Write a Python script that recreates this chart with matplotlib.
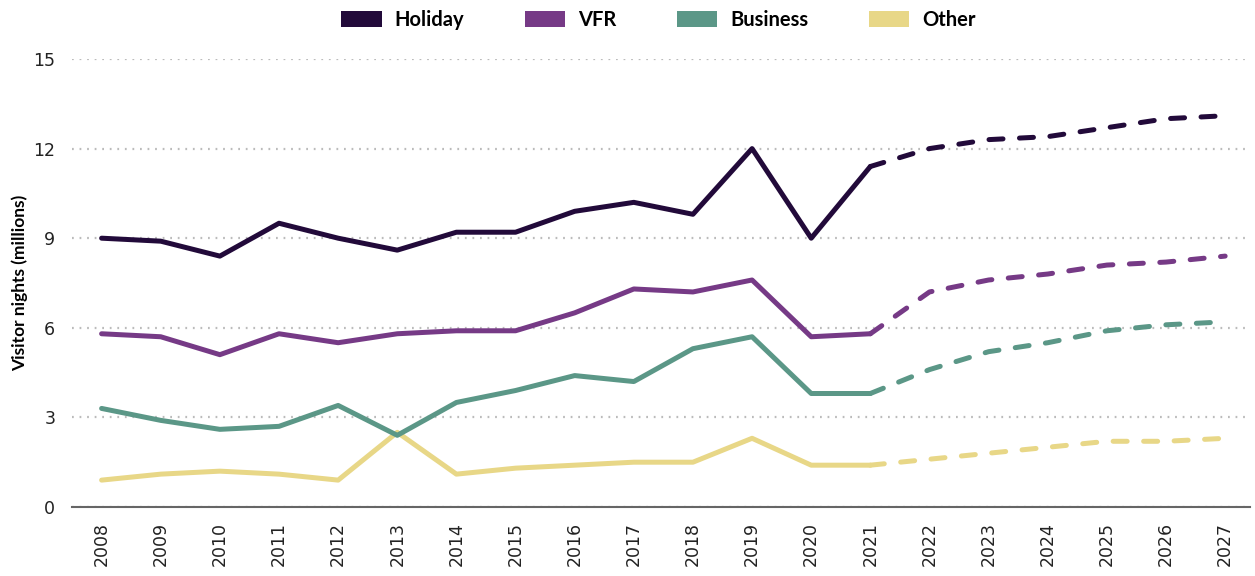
import matplotlib
matplotlib.use("Agg")
import matplotlib.pyplot as plt
from matplotlib.patches import Patch

# --- data: visitor nights (millions), actuals to 2021 then forecast ---
years = list(range(2008, 2028))
last_actual = 2021

holiday = [9.0, 8.9, 8.4, 9.5, 9.0, 8.6, 9.2, 9.2, 9.9, 10.2, 9.8, 12.0, 9.0, 11.4,
           12.0, 12.3, 12.4, 12.7, 13.0, 13.1]
vfr = [5.8, 5.7, 5.1, 5.8, 5.5, 5.8, 5.9, 5.9, 6.5, 7.3, 7.2, 7.6, 5.7, 5.8,
       7.2, 7.6, 7.8, 8.1, 8.2, 8.4]
business = [3.3, 2.9, 2.6, 2.7, 3.4, 2.4, 3.5, 3.9, 4.4, 4.2, 5.3, 5.7, 3.8, 3.8,
            4.6, 5.2, 5.5, 5.9, 6.1, 6.2]
other = [0.9, 1.1, 1.2, 1.1, 0.9, 2.5, 1.1, 1.3, 1.4, 1.5, 1.5, 2.3, 1.4, 1.4,
         1.6, 1.8, 2.0, 2.2, 2.2, 2.3]

series_names = ["Holiday", "VFR", "Business", "Other"]
colors = ["#220a3a", "#763a86", "#5b9787", "#e8d787"]
yticks = [0, 3, 6, 9, 12, 15]

plt.rcParams["font.family"] = ["Lato", "DejaVu Sans"]

fig = plt.figure(figsize=(12.55, 5.76), dpi=100)
ax = fig.add_axes([0.0574, 0.1198, 0.9386, 0.7778])

split = years.index(last_actual)
# draw back to front so Holiday sits on top
for name, vals, col in reversed(list(zip(series_names, [holiday, vfr, business, other], colors))):
    ax.plot(years[:split + 1], vals[:split + 1], color=col, lw=3.6,
            solid_capstyle="round", solid_joinstyle="round", clip_on=False)
    ax.plot(years[split:], vals[split:], color=col, lw=3.6, dashes=(2.8, 3.3),
            dash_capstyle="round", dash_joinstyle="round", clip_on=False)

ax.set_xlim(2007.5, 2027.42)
ax.set_ylim(0, 15)
ax.set_xticks(years)
ax.set_xticklabels([str(y) for y in years], rotation=90)
ax.set_yticks(yticks)
ax.set_yticklabels([str(v) for v in yticks])
for lbl in ax.get_xticklabels() + ax.get_yticklabels():
    lbl.set_fontfamily("DejaVu Sans")
    lbl.set_fontsize(12.5)
    lbl.set_color("#222222")
ax.tick_params(axis="both", length=0)
ax.tick_params(axis="x", pad=11)
ax.tick_params(axis="y", pad=12)

ax.grid(axis="y", linestyle=(0, (0.8, 2.6)), color="#bbbbbb", lw=1.6)
ax.set_axisbelow(True)
for s in ["top", "right", "left"]:
    ax.spines[s].set_visible(False)
ax.spines["bottom"].set_color("#666666")
ax.spines["bottom"].set_linewidth(1.5)
ax.spines["bottom"].set_zorder(1)

ax.set_ylabel("Visitor nights (millions)", fontsize=12.5, fontweight="bold")
ax.yaxis.set_label_coords(-0.037, 0.5)

handles = [Patch(facecolor=c, edgecolor="none", label=n) for n, c in zip(series_names, colors)]
fig.legend(handles=handles, loc="center", bbox_to_anchor=(0.5247, 0.965), ncol=4,
           frameon=False, prop={"weight": "bold", "size": 14.5},
           handlelength=2.0, handleheight=0.85, handletextpad=0.65, columnspacing=3.0,
           borderaxespad=0.0)

fig.savefig("out.png", dpi=100)
